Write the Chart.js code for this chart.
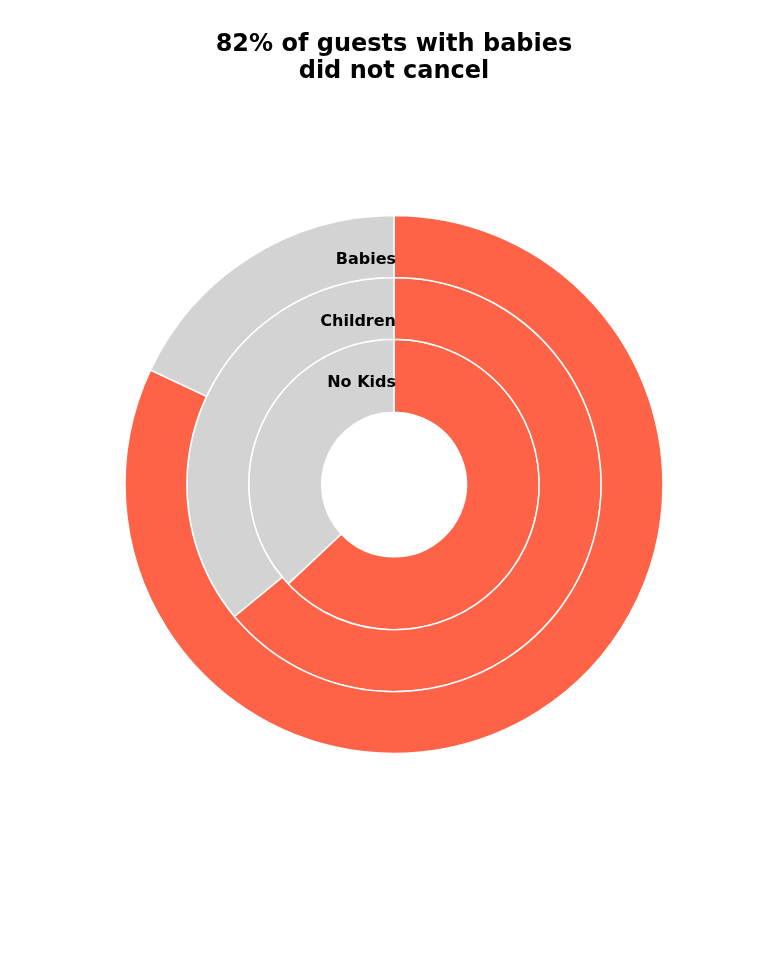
<!DOCTYPE html>
<html>
<head>
<meta charset="utf-8">
<script src="https://cdn.jsdelivr.net/npm/chart.js@4"></script>
<style>
  html, body { margin: 0; padding: 0; background: #ffffff; }
  #wrap { width: 768px; height: 960px; position: relative; }
</style>
</head>
<body>
<div id="wrap"><canvas id="c" width="768" height="960"></canvas></div>
<script>
const groups = ['Babies', 'Children', 'No Kids'];
const statusLabels = ['Not canceled', 'Canceled'];
const babies = [82, 18];
const children = [64, 36];
const noKids = [63, 37];
const titleLines = ['82% of guests with babies', 'did not cancel'];
const sliceColors = ['#FF6347', '#D3D3D3'];

const ringLabels = {
  id: 'ringLabels',
  afterDatasetsDraw(chart) {
    const ctx = chart.ctx;
    ctx.save();
    ctx.font = 'bold 16px "DejaVu Sans"';
    ctx.fillStyle = '#000000';
    ctx.textAlign = 'right';
    ctx.textBaseline = 'middle';
    chart.data.datasets.forEach((ds, i) => {
      const meta = chart.getDatasetMeta(i);
      const arc = meta.data[0];
      if (!arc) return;
      const p = arc.getProps(['x', 'y', 'outerRadius'], true);
      ctx.fillText(ds.label, p.x + 2, p.y - (p.outerRadius - 44));
    });
    ctx.restore();
  }
};

new Chart(document.getElementById('c'), {
  type: 'doughnut',
  data: {
    labels: statusLabels,
    datasets: [
      { label: groups[0], data: babies, backgroundColor: sliceColors, borderColor: '#ffffff', borderWidth: 1.5, weight: 62 },
      { label: groups[1], data: children, backgroundColor: sliceColors, borderColor: '#ffffff', borderWidth: 1.5, weight: 62 },
      { label: groups[2], data: noKids, backgroundColor: sliceColors, borderColor: '#ffffff', borderWidth: 1.5, weight: 73 }
    ]
  },
  options: {
    responsive: false,
    animation: false,
    events: [],
    radius: 269,
    cutout: '26.9%',
    layout: { padding: { left: 20, right: 0, top: 0, bottom: 76 } },
    plugins: {
      legend: { display: false },
      tooltip: { enabled: false },
      title: {
        display: true,
        text: titleLines,
        color: '#000000',
        font: { family: '"DejaVu Sans"', size: 24, weight: 'bold', lineHeight: 1.125 },
        padding: { top: 31, bottom: 0 }
      }
    }
  },
  plugins: [ringLabels]
});
</script>
</body>
</html>
